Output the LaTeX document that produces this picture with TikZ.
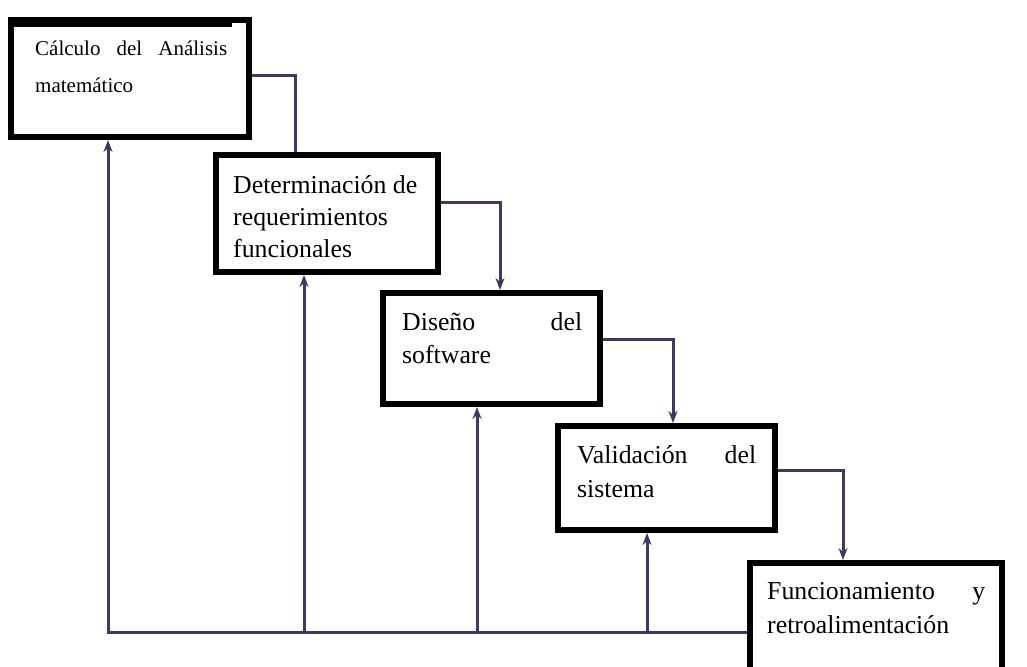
\documentclass[tikz,border=0pt]{standalone}
\usepackage{fontspec}
\setmainfont{Liberation Serif}
\usetikzlibrary{arrows.meta,calc}
\definecolor{conn}{RGB}{58,58,100}
\tikzset{
  stagebox/.style={draw=black, line width=6pt, fill=white, inner sep=0pt, rectangle},
  flow/.style={draw=conn, line width=3pt},
  flowarrow/.style={flow, -{Stealth[length=12pt,width=9pt]}},
  boxtext/.style={anchor=base west, inner sep=0pt, text=black}
}
\begin{document}
\begin{tikzpicture}[x=1pt,y=1pt]
\useasboundingbox (0,0) rectangle (1027,-666);
\clip (0,0) rectangle (1027,-666);
\fill[white] (0,0) rectangle (1027,-666);

% boxes (centres and stroke sizes from outer extents)
\node[stagebox, minimum width=238pt, minimum height=117pt] (b1) at (130,-78.5) {};
\node[stagebox, minimum width=222pt, minimum height=117pt] (b2) at (327,-213.5) {};
\node[stagebox, minimum width=217pt, minimum height=111pt] (b3) at (491.5,-348.5) {};
\node[stagebox, minimum width=217pt, minimum height=104pt] (b4) at (666.5,-478) {};
\node[stagebox, minimum width=252pt, minimum height=134pt] (b5) at (876,-630) {};
% thicker top edge on the first box
\fill[black] (b1.north west) rectangle ([xshift=-20pt,yshift=-10pt]b1.north east);

% texts
\node[boxtext] (t1) at (35,-56) {\parbox[t]{192pt}{\fontsize{21pt}{37pt}\selectfont C\'alculo\hfill del\hfill An\'alisis\\matem\'atico}};
\node[boxtext] (t2) at (233,-193) {\parbox[t]{205pt}{\fontsize{25.8pt}{32pt}\selectfont Determinaci\'on de\\requerimientos\\funcionales}};
\node[boxtext] (t3) at (402,-330) {\parbox[t]{180pt}{\fontsize{25.8pt}{33pt}\selectfont Dise\~no\hfill del\\software}};
\node[boxtext] (t4) at (577,-463) {\parbox[t]{179pt}{\fontsize{25.8pt}{34pt}\selectfont Validaci\'on\hfill del\\sistema}};
\node[boxtext] (t5) at (767,-599) {\parbox[t]{218pt}{\fontsize{25.8pt}{34pt}\selectfont Funcionamiento\hfill y\\retroalimentaci\'on}};

% forward connectors
\draw[flow] ([yshift=2.5pt]b1.east) -| ([xshift=-32pt]b2.north);
\draw[flowarrow] ([yshift=11.5pt]b2.east) -| ([xshift=8.5pt]b3.north);
\draw[flowarrow] ([yshift=9.5pt]b3.east) -| ([xshift=6.5pt]b4.north);
\draw[flowarrow] ([yshift=8pt]b4.east) -| ([xshift=-33pt]b5.north);

% feedback bus
\coordinate (busL) at (108,-632);
\coordinate (u1) at ([xshift=-22pt]b1.south);
\coordinate (u2) at ([xshift=-23pt]b2.south);
\coordinate (u3) at ([xshift=-14.5pt]b3.south);
\coordinate (u4) at ([xshift=-19.5pt]b4.south);
\draw[flowarrow] ([yshift=-2pt]b5.west) -| (u1);
\draw[flowarrow] (u2 |- busL) -- (u2);
\draw[flowarrow] (u3 |- busL) -- (u3);
\draw[flowarrow] (u4 |- busL) -- (u4);
\end{tikzpicture}
\end{document}
